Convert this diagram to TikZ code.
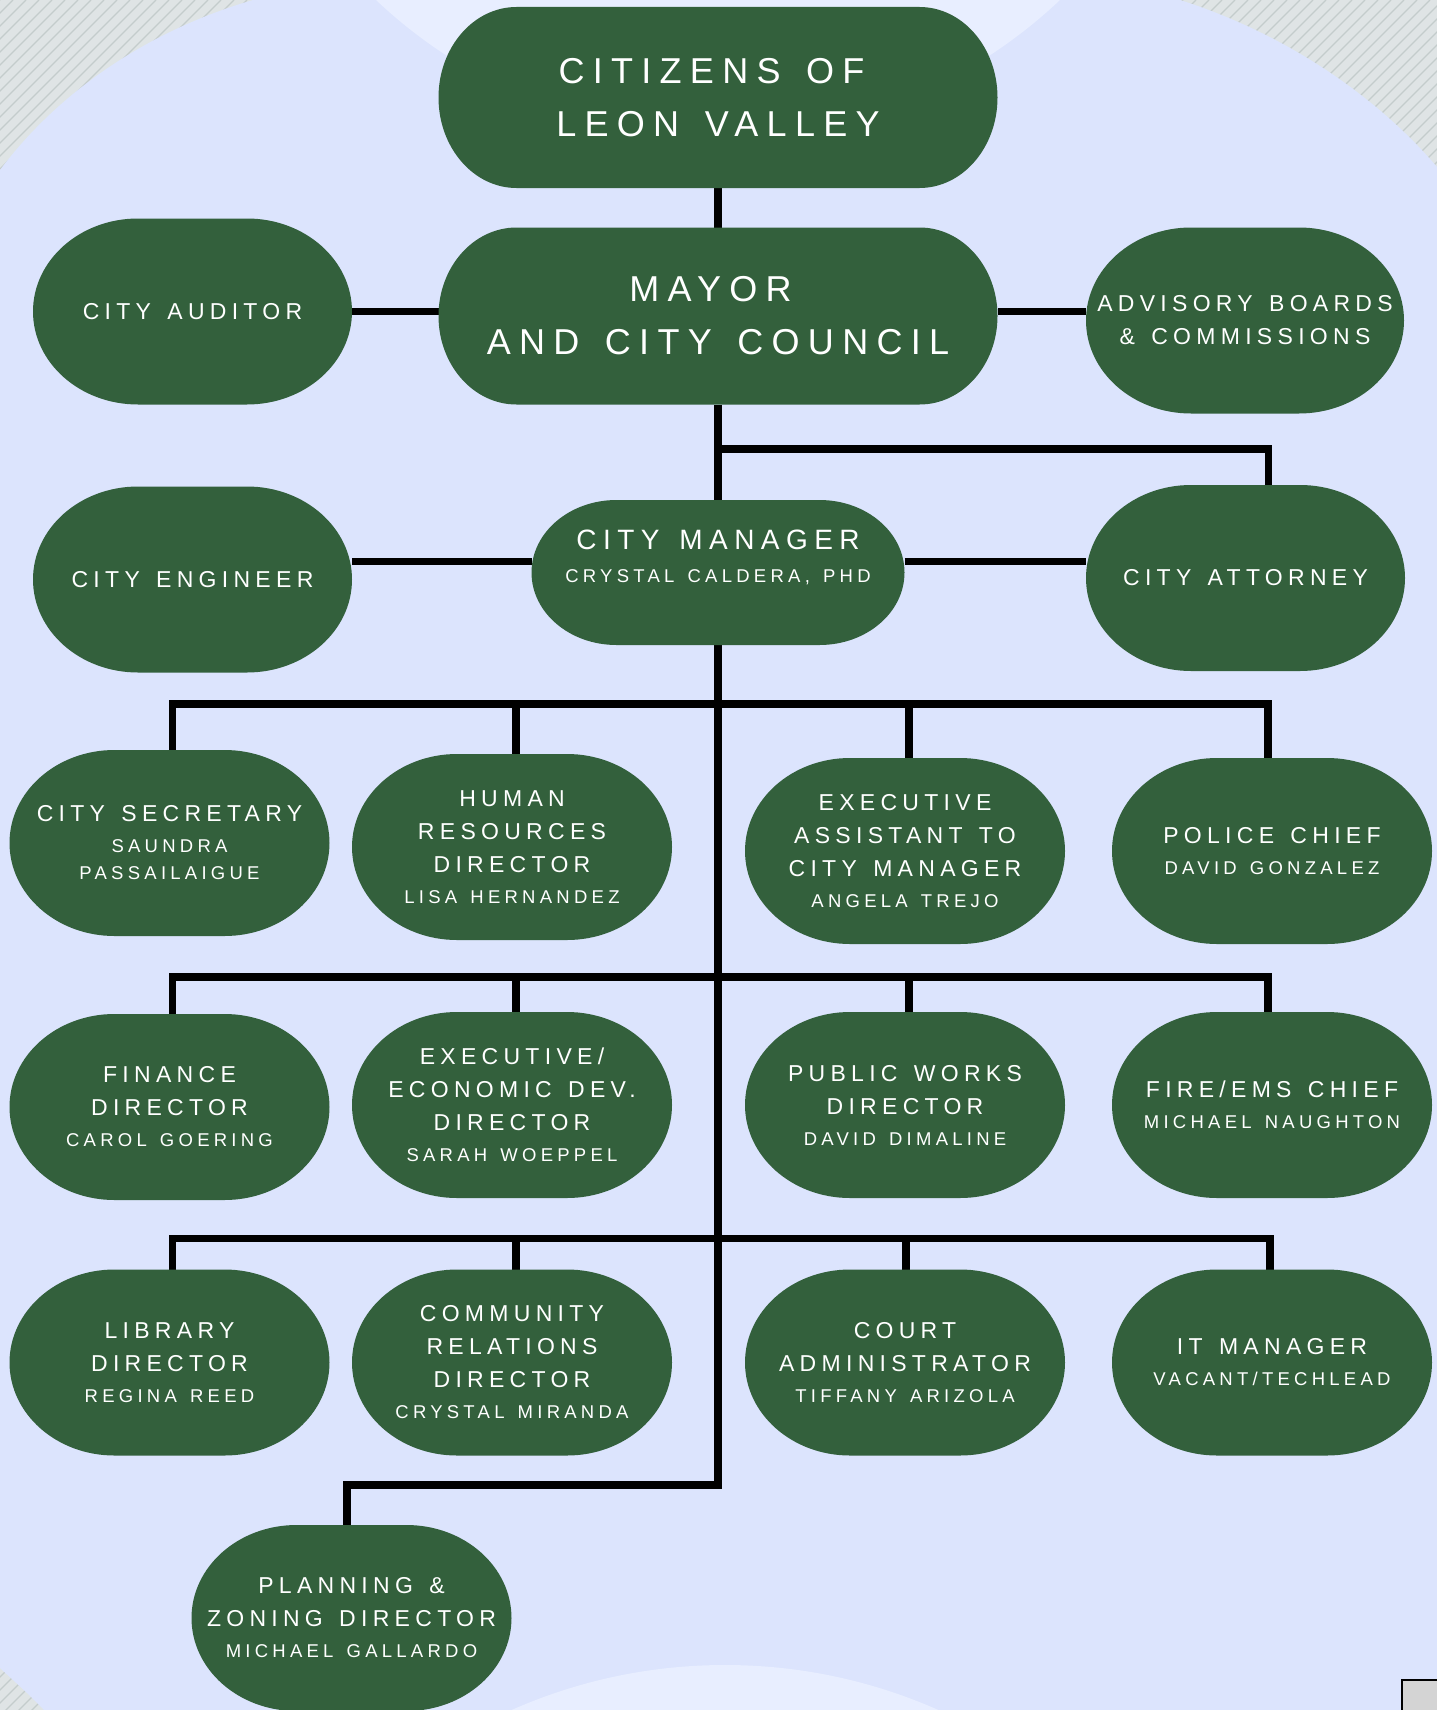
\documentclass[tikz,border=0pt]{standalone}
\usepackage{fontspec}
\newfontfamily\orgfont{Liberation Sans}[LetterSpace=23,WordSpace=1.4]
\newcommand\ttl{\orgfont\fontsize{36}{53}\selectfont}
\newcommand\hd{\orgfont\fontsize{23}{33}\selectfont}
\newcommand\mg{\orgfont\fontsize{28}{35}\selectfont}
\newcommand\nm{\orgfont\fontsize{18.5}{27}\selectfont}
\definecolor{leafgreen}{HTML}{33603C}
\definecolor{paleblue}{HTML}{DCE4FD}
\definecolor{glowblue}{HTML}{E8EEFF}
\definecolor{hatchbg}{HTML}{DFE4E5}
\definecolor{hatchline}{HTML}{C4CCCC}

% a box with elliptic corners
\makeatletter
\pgfdeclareshape{oval}{%
  \inheritsavedanchors[from=rectangle]%
  \inheritanchorborder[from=rectangle]%
  \inheritanchor[from=rectangle]{center}%
  \inheritanchor[from=rectangle]{north}%
  \inheritanchor[from=rectangle]{south}%
  \inheritanchor[from=rectangle]{east}%
  \inheritanchor[from=rectangle]{west}%
  \backgroundpath{%
    \southwest \pgf@xa=\pgf@x \pgf@ya=\pgf@y
    \northeast \pgf@xb=\pgf@x \pgf@yb=\pgf@y
    \pgf@yc=\pgf@yb \advance\pgf@yc by -\pgf@ya \pgf@yc=0.5\pgf@yc
    \edef\ovalry{\the\pgf@yc}%
    \edef\ovalxl{\the\pgf@xa}\edef\ovalxr{\the\pgf@xb}%
    \edef\ovalyb{\the\pgf@ya}\edef\ovalyt{\the\pgf@yb}%
    \pgfpathmoveto{\pgfpoint{\ovalxl}{\ovalyb+\ovalry}}%
    \pgfpatharc{180}{90}{\ovalrx and \ovalry}%
    \pgfpathlineto{\pgfpoint{\ovalxr-\ovalrx}{\ovalyt}}%
    \pgfpatharc{90}{0}{\ovalrx and \ovalry}%
    \pgfpatharc{0}{-90}{\ovalrx and \ovalry}%
    \pgfpathlineto{\pgfpoint{\ovalxl+\ovalrx}{\ovalyb}}%
    \pgfpatharc{270}{180}{\ovalrx and \ovalry}%
    \pgfpathclose
  }%
}
\makeatother

\tikzset{
  oval rx/.code={\def\ovalrx{#1}},
  office/.style={shape=oval, oval rx=105pt, fill=leafgreen, text=white, inner sep=0pt,
    outer sep=0pt, align=center, minimum width=320pt, minimum height=186pt, font=\hd},
  wire/.style={line width=7.5pt, black},
}
\pgfdeclarelayer{decor}
\pgfdeclarelayer{wires}
\pgfsetlayers{decor,wires,main}

\begin{document}
\begin{tikzpicture}[x=1pt,y=-1pt]
	\useasboundingbox (0,0) rectangle (1437,1710);

	% top of the chart
	\node[office, oval rx=78pt, minimum width=559pt, minimum height=181pt, font=\ttl] (cit) at (718,97.5) {CITIZENS OF\hspace*{13pt}\\LEON VALLEY};
	\node[office, oval rx=78pt, minimum width=559pt, minimum height=177pt, font=\ttl] (mayor) at (718,316) {MAYOR\hspace*{15pt}\\AND CITY COUNCIL};
	\node[office, minimum width=319pt] (aud) at (192.5,311.5) {CITY AUDITOR};
	\node[office, minimum width=318pt] (adv) at (1245,320.5) {ADVISORY BOARDS\\\& COMMISSIONS};
	\node[office, minimum width=319pt] (eng) at (192.5,579.5) {CITY ENGINEER};
	\node[office, oval rx=85pt, minimum width=373pt, minimum height=145pt, text depth=33pt] (mgr) at (718,572.5) {{\mg CITY MANAGER}\\{\nm CRYSTAL CALDERA, PHD}};
	\node[office, minimum width=319pt] (att) at (1245.5,578) {CITY ATTORNEY};

	% departments
	\node[office] (sec) at (169.5,843) {CITY SECRETARY\\[-2pt]{\nm SAUNDRA}\\[-6pt]{\nm PASSAILAIGUE}};
	\node[office] (hr) at (512,847) {HUMAN\\RESOURCES\\DIRECTOR\\[-2pt]{\nm LISA HERNANDEZ}};
	\node[office] (exa) at (905,851) {EXECUTIVE\\ASSISTANT TO\\CITY MANAGER\\[-2pt]{\nm ANGELA TREJO}};
	\node[office] (pol) at (1272,851) {POLICE CHIEF\\[-2pt]{\nm DAVID GONZALEZ}};

	\node[office] (fin) at (169.5,1107) {FINANCE\\DIRECTOR\\[-2pt]{\nm CAROL GOERING}};
	\node[office] (eco) at (512,1105) {EXECUTIVE/\\ECONOMIC DEV.\\DIRECTOR\\[-2pt]{\nm SARAH WOEPPEL}};
	\node[office] (pw) at (905,1105) {PUBLIC WORKS\\DIRECTOR\\[-2pt]{\nm DAVID DIMALINE}};
	\node[office] (fire) at (1272,1105) {FIRE/EMS CHIEF\\[-2pt]{\nm MICHAEL NAUGHTON}};

	\node[office] (lib) at (169.5,1362.5) {LIBRARY\\DIRECTOR\\[-2pt]{\nm REGINA REED}};
	\node[office] (crd) at (512,1362.5) {COMMUNITY\\RELATIONS\\DIRECTOR\\[-2pt]{\nm CRYSTAL MIRANDA}};
	\node[office] (court) at (905,1362.5) {COURT\\ADMINISTRATOR\\[-2pt]{\nm TIFFANY ARIZOLA}};
	\node[office] (it) at (1272,1362.5) {IT MANAGER\\[-2pt]{\nm VACANT/TECHLEAD}};

	\node[office] (plan) at (351.5,1618) {PLANNING \&\\ZONING DIRECTOR\\[-2pt]{\nm MICHAEL GALLARDO}};

	\coordinate (tap) at (0,449);
	\coordinate (bus1) at (0,704);
	\coordinate (bus2) at (0,977);
	\coordinate (bus3) at (0,1238.5);
	\coordinate (split) at (0,1485);

	\begin{pgfonlayer}{wires}
		\draw[wire] (cit.south) -- (cit.south |- mayor.north);
		\draw[wire] (aud.east) -- (aud.east -| mayor.west);
		\draw[wire] (mayor.east |- aud.east) -- (adv.west |- aud.east);
		\draw[wire] (mayor.south) -- (mayor.south |- mgr.north);
		\draw[wire] (mayor.south |- tap) -| ([xshift=23pt]att.north);
		\draw[wire] ([yshift=11pt]mgr.west) -- ([yshift=11pt]mgr.west -| eng.east);
		\draw[wire] ([yshift=11pt]mgr.east) -- ([yshift=11pt]mgr.east -| att.west);
		\draw[wire] (mgr.south) |- ([xshift=-4.5pt]plan.north |- split) -- ([xshift=-4.5pt]plan.north);
		% three rows of departments
		\draw[wire] ([xshift=3pt]sec.north) |- ([xshift=-4pt]pol.north |- bus1) -- ([xshift=-4pt]pol.north);
		\draw[wire] ([xshift=4pt]hr.north) -- ([xshift=4pt]hr.north |- bus1);
		\draw[wire] ([xshift=4pt]exa.north) -- ([xshift=4pt]exa.north |- bus1);
		\draw[wire] ([xshift=3pt]fin.north) |- ([xshift=-4pt]fire.north |- bus2) -- ([xshift=-4pt]fire.north);
		\draw[wire] ([xshift=4pt]eco.north) -- ([xshift=4pt]eco.north |- bus2);
		\draw[wire] ([xshift=4pt]pw.north) -- ([xshift=4pt]pw.north |- bus2);
		\draw[wire] ([xshift=3pt]lib.north) |- ([xshift=-2pt]it.north |- bus3) -- ([xshift=-2pt]it.north);
		\draw[wire] ([xshift=4pt]crd.north) -- ([xshift=4pt]crd.north |- bus3);
		\draw[wire] ([xshift=1pt]court.north) -- ([xshift=1pt]court.north |- bus3);
	\end{pgfonlayer}

	\begin{pgfonlayer}{decor}
		\fill[hatchbg] (0,0) rectangle (1437,1710);
		\begin{scope}
			\clip (0,0) rectangle (1437,1710);
			\foreach \k in {0,13,...,3200}
				\draw[hatchline, line width=1.2pt] (\k,0) -- (\k-1800,1800);
			\fill[paleblue] (0,170) .. controls (60,90) and (150,30) .. (253,0) -- (1180,0)
				.. controls (1290,35) and (1380,100) .. (1437,167) -- (1437,1710) -- (44,1710)
				.. controls (30,1695) and (15,1682) .. (0,1668) -- cycle;
			\fill[glowblue] (718,-362) circle (498);
			\fill[glowblue] (725,2192) circle (527);
			\filldraw[fill=black!17, draw=black, line width=2.5pt] (1402,1680) rectangle (1450,1730);
		\end{scope}
	\end{pgfonlayer}
\end{tikzpicture}
\end{document}
